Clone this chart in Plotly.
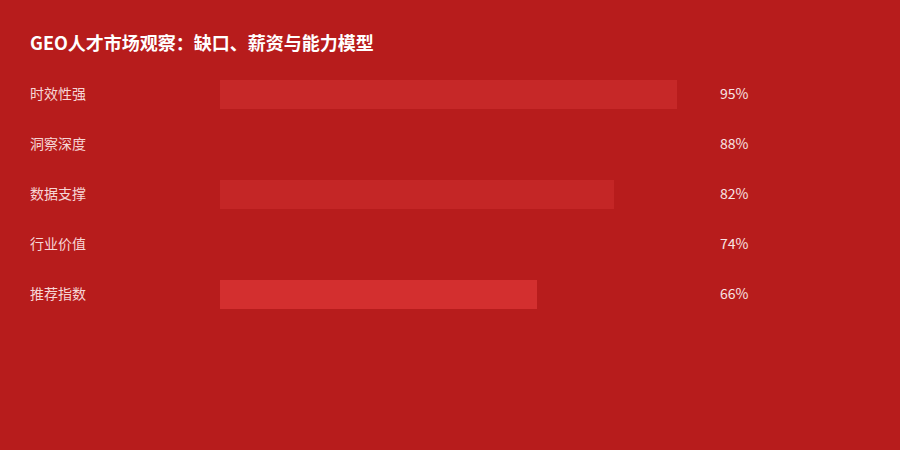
import plotly.graph_objects as go

# Chart data
categories = ["时效性强", "洞察深度", "数据支撑", "行业价值", "推荐指数"]
values = [95, 88, 82, 74, 66]
bar_colors = ["#C62828", "#B71C1C", "#C42626", "#B71C1C", "#D32F2F"]
value_labels = [f"{v}%" for v in values]

title_text = "GEO人才市场观察：缺口、薪资与能力模型"
bg = "#B71C1C"
font_family = "Noto Sans CJK SC, Microsoft YaHei, sans-serif"

fig = go.Figure()

fig.add_trace(go.Bar(
    x=values,
    y=categories,
    orientation='h',
    marker=dict(color=bar_colors, line=dict(width=0)),
    width=0.58,
    hoverinfo='skip',
    showlegend=False
))

# Category names on the left, values on the right
annotations = []
for cat, lab in zip(categories, value_labels):
    annotations.append(dict(
        x=28 / 900, xref='paper', y=cat, yref='y',
        text=cat, showarrow=False, xanchor='left', yanchor='middle', yshift=1,
        font=dict(size=14, color='#F6D6D6', family=font_family)
    ))
    annotations.append(dict(
        x=718 / 900, xref='paper', y=cat, yref='y',
        text=lab, showarrow=False, xanchor='left', yanchor='middle', yshift=1,
        font=dict(size=14, color='#F8E4E4', family=font_family)
    ))

fig.update_layout(
    width=900,
    height=450,
    paper_bgcolor=bg,
    plot_bgcolor=bg,
    margin=dict(l=0, r=0, t=69, b=131),
    title=dict(
        text=f"<b>{title_text}</b>",
        x=30 / 900, xanchor='left',
        y=1 - 44 / 450, yanchor='middle',
        font=dict(size=18, color='#FFFFFF', family=font_family)
    ),
    xaxis=dict(
        domain=[220 / 900, 701 / 900], range=[0, 100],
        visible=False, fixedrange=True
    ),
    yaxis=dict(
        autorange=False, range=[4.5, -0.5],
        visible=False, fixedrange=True
    ),
    annotations=annotations,
    bargap=0
)

# drop the default page margin so the chart fills the window
fig.write_html(
    "out.html",
    config={'displayModeBar': False},
    post_script="document.body.style.margin='0';document.body.style.overflow='hidden';"
)
